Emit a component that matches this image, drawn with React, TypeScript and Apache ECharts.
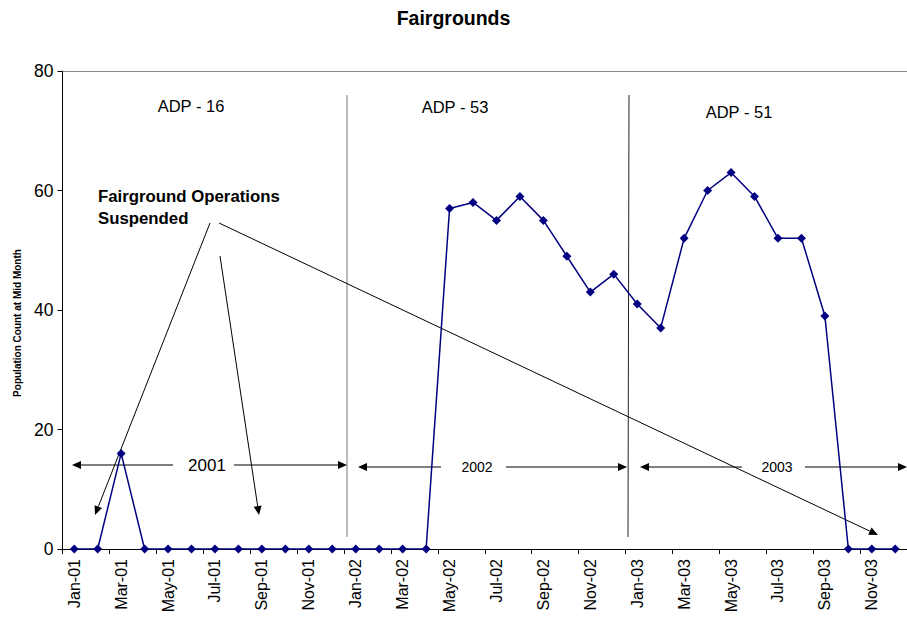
import React, { useEffect, useRef } from "react";
import * as echarts from "echarts";

const months = ["Jan", "Feb", "Mar", "Apr", "May", "Jun", "Jul", "Aug", "Sep", "Oct", "Nov", "Dec"];
const years = ["01", "02", "03"];
const categories: string[] = years.flatMap((y) => months.map((m) => `${m}-${y}`));

const values2001 = [0, 0, 16, 0, 0, 0, 0, 0, 0, 0, 0, 0];
const values2002 = [0, 0, 0, 0, 57, 58, 55, 59, 55, 49, 43, 46];
const values2003 = [41, 37, 52, 60, 63, 59, 52, 52, 39, 0, 0, 0];
const populationCount = [...values2001, ...values2002, ...values2003];

const yTicks = { min: 0, max: 80, interval: 20 };

const FONT = "'Liberation Sans', Arial, sans-serif";

function arrow(x1: number, y1: number, x2: number, y2: number, color = "#000", width = 1) {
  const dx = x2 - x1;
  const dy = y2 - y1;
  const len = Math.sqrt(dx * dx + dy * dy);
  const ux = dx / len;
  const uy = dy / len;
  const hl = 9;
  const hw = 4;
  const bx = x2 - ux * hl;
  const by = y2 - uy * hl;
  return [
    {
      type: "line",
      silent: true,
      shape: { x1, y1, x2: bx, y2: by },
      style: { stroke: color, lineWidth: width },
    },
    {
      type: "polygon",
      silent: true,
      shape: {
        points: [
          [x2, y2],
          [bx - uy * hw, by + ux * hw],
          [bx + uy * hw, by - ux * hw],
        ],
      },
      style: { fill: color },
    },
  ];
}

function textEl(text: string, x: number, y: number, size: number, weight: string = "normal", align: string = "center", rotation = 0) {
  return {
    type: "text",
    silent: true,
    x,
    y,
    rotation,
    style: {
      text,
      fill: "#000",
      font: `${weight} ${size}px ${FONT}`,
      textAlign: align,
      textVerticalAlign: "middle",
    },
  };
}

export default function App() {
  const ref = useRef<HTMLDivElement>(null);
  useEffect(() => {
    if (!ref.current) return;
    const chart = echarts.init(ref.current, undefined, { renderer: "svg" });
    const graphics: any[] = [
      textEl("Population Count at Mid Month", 17, 323, 10, "bold", "center", Math.PI / 2),
      textEl("ADP - 16", 191, 106, 16.5),
      textEl("ADP - 53", 455, 107, 16.5),
      textEl("ADP - 51", 739, 112, 16.5),
      textEl("Fairground Operations", 98, 196, 16.8, "bold", "left"),
      textEl("Suspended", 98, 218, 16.8, "bold", "left"),
      {
        type: "line",
        silent: true,
        shape: { x1: 347, y1: 95, x2: 347, y2: 537 },
        style: { stroke: "#777", lineWidth: 1 },
      },
      {
        type: "line",
        silent: true,
        shape: { x1: 629, y1: 95, x2: 628, y2: 537 },
        style: { stroke: "#222", lineWidth: 1 },
      },
      ...arrow(210, 223, 95, 515),
      ...arrow(220, 256, 259, 515),
      ...arrow(219, 223, 878, 535),
      ...arrow(173, 465, 72, 465),
      ...arrow(234, 465, 347, 465),
      textEl("2001", 207, 465, 17),
      ...arrow(441, 467, 358, 467),
      ...arrow(506, 467, 627, 467),
      textEl("2002", 477, 467, 14),
      ...arrow(742, 467, 640, 467),
      ...arrow(805, 467, 907, 467),
      textEl("2003", 777, 467, 14),
    ];
    chart.setOption({
      animation: false,
      backgroundColor: "#fff",
      title: {
        text: "Fairgrounds",
        left: "center",
        top: 3,
        textStyle: { fontFamily: FONT, fontSize: 19.5, fontWeight: "bold", color: "#000" },
      },
      grid: { left: 62.5, top: 71, width: 846, bottom: 68, containLabel: false },
      xAxis: {
        type: "category",
        data: categories,
        boundaryGap: true,
        axisLine: { show: true, lineStyle: { color: "#000", width: 1 } },
        axisTick: { show: true, interval: 1, length: 5, lineStyle: { color: "#000" } },
        axisLabel: {
          interval: 1,
          rotate: 90,
          margin: 10,
          fontFamily: FONT,
          fontSize: 16,
          color: "#000",
        },
        splitLine: { show: false },
      },
      yAxis: {
        type: "value",
        min: yTicks.min,
        max: yTicks.max,
        interval: yTicks.interval,
        axisLine: { show: true, lineStyle: { color: "#000", width: 1 } },
        axisTick: { show: true, length: 5, lineStyle: { color: "#000" } },
        axisLabel: { margin: 9, fontFamily: FONT, fontSize: 17.5, color: "#000" },
        splitLine: { show: false },
      },
      series: [
        {
          type: "line",
          data: populationCount,
          symbol: "diamond",
          symbolSize: 9,
          showAllSymbol: true,
          lineStyle: { color: "#000080", width: 1.5 },
          itemStyle: { color: "#000080" },
          markLine: {
            silent: true,
            symbol: "none",
            label: { show: false },
            lineStyle: { color: "#888", type: "solid", width: 1 },
            data: [{ yAxis: yTicks.max }],
          },
        },
      ],
      graphic: graphics,
    });
    return () => chart.dispose();
  }, []);
  return <div ref={ref} style={{ width: 907, height: 617, position: "absolute", left: 0, top: 0 }} />;
}
